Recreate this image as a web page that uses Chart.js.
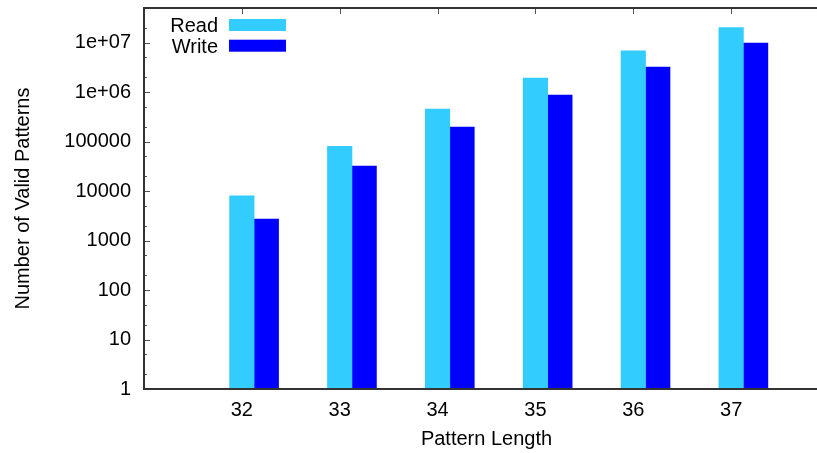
<!DOCTYPE html>
<html>
<head>
<meta charset="utf-8">
<script src="https://cdn.jsdelivr.net/npm/chart.js@4/dist/chart.umd.min.js"></script>
<style>
html, body { margin: 0; padding: 0; background: #fff; overflow: hidden; }
#wrap { width: 829px; height: 453px; }
</style>
</head>
<body>
<div id="wrap"><canvas id="chart"></canvas></div>
<script>
// pattern lengths and counts
var lengths = [32, 33, 34, 35, 36, 37];
var readCounts = [8000, 80000, 455000, 1920000, 6800000, 20000000];
var writeCounts = [2700, 32000, 197000, 870000, 3200000, 9800000];

var yTickValues = [1, 10, 100, 1000, 10000, 100000, 1000000, 10000000];
var yTickLabels = ['1', '10', '100', '1000', '10000', '100000', '1e+06', '1e+07'];
var yMax = 5e7;
var barShift = 0.25; // write bar sits right of the read bar

var fontFamily = '"Liberation Sans", Arial, Helvetica, sans-serif';
var axisFont = { family: fontFamily, size: 20 };

var yMinor = [];
yTickValues.forEach(function (v) {
    [2, 5].forEach(function (m) {
        if (v * m < yMax) yMinor.push(v * m);
    });
});

var gnuplotFrame = {
    id: 'gnuplotFrame',
    beforeDatasetsDraw: function (chart) {
        var ctx = chart.ctx, a = chart.chartArea;
        var xs = chart.scales.x, ys = chart.scales.y;
        ctx.save();
        ctx.strokeStyle = '#555';
        ctx.lineWidth = 1;
        ctx.beginPath();
        yTickValues.forEach(function (v) {
            var py = Math.round(ys.getPixelForValue(v)) + 0.5;
            ctx.moveTo(a.left, py);
            ctx.lineTo(a.left + 6, py);
        });
        yMinor.forEach(function (v) {
            var py = Math.round(ys.getPixelForValue(v)) + 0.5;
            ctx.moveTo(a.left, py);
            ctx.lineTo(a.left + 3, py);
        });
        lengths.forEach(function (v) {
            var px = Math.round(xs.getPixelForValue(v)) + 0.5;
            ctx.moveTo(px, a.top);
            ctx.lineTo(px, a.top + 6);
            ctx.moveTo(px, a.bottom);
            ctx.lineTo(px, a.bottom - 6);
        });
        ctx.stroke();
        ctx.restore();
    },
    afterDraw: function (chart) {
        var ctx = chart.ctx, a = chart.chartArea;
        ctx.save();
        ctx.strokeStyle = '#333';
        ctx.lineWidth = 2;
        ctx.beginPath();
        ctx.moveTo(a.right, a.top);
        ctx.lineTo(a.left, a.top);
        ctx.lineTo(a.left, a.bottom);
        ctx.lineTo(a.right, a.bottom);
        ctx.stroke();

        // key, top left, text right-aligned before the swatch
        ctx.font = '20px ' + fontFamily;
        ctx.textAlign = 'right';
        ctx.textBaseline = 'middle';
        chart.data.datasets.forEach(function (ds, i) {
            var cy = a.top + 17 + i * 20.7;
            ctx.fillStyle = '#000';
            ctx.fillText(ds.label, 218, cy + 1.5);
            ctx.fillStyle = ds.backgroundColor;
            ctx.fillRect(229, cy - 6, 57, 12);
        });
        ctx.restore();
    }
};

new Chart(document.getElementById('chart'), {
    type: 'bar',
    data: {
        datasets: [{
            label: 'Read',
            data: lengths.map(function (l, i) { return { x: l, y: readCounts[i] }; }),
            backgroundColor: '#33ccff'
        }, {
            label: 'Write',
            data: lengths.map(function (l, i) { return { x: l + barShift, y: writeCounts[i] }; }),
            backgroundColor: '#0000ff'
        }]
    },
    options: {
        responsive: true,
        maintainAspectRatio: false,
        animation: false,
        devicePixelRatio: 1,
        grouped: false,
        barThickness: 24.5,
        borderWidth: 0,
        layout: { padding: { left: 0, right: 0, top: 8, bottom: 0 } },
        plugins: {
            legend: { display: false },
            tooltip: { enabled: false }
        },
        scales: {
            x: {
                type: 'linear',
                offset: false,
                min: 31,
                max: 38,
                grid: { display: false, drawTicks: false, offset: false },
                border: { display: false },
                afterBuildTicks: function (s) {
                    s.ticks = lengths.map(function (v) { return { value: v }; });
                },
                afterFit: function (s) {
                    s.height = 64;
                    s.paddingLeft = 0;
                    s.paddingRight = 0;
                },
                ticks: { font: axisFont, color: '#000', padding: 9, maxRotation: 0 },
                title: {
                    display: true,
                    text: 'Pattern Length',
                    font: axisFont,
                    color: '#000',
                    padding: { top: 0, bottom: 2 }
                }
            },
            y: {
                type: 'logarithmic',
                min: 1,
                max: yMax,
                grid: { display: false, drawTicks: false },
                border: { display: false },
                afterBuildTicks: function (s) {
                    s.ticks = yTickValues.map(function (v) { return { value: v }; });
                },
                afterFit: function (s) {
                    s.width = 144;
                    s.paddingTop = 0;
                    s.paddingBottom = 0;
                },
                ticks: {
                    font: axisFont,
                    color: '#000',
                    padding: 13,
                    callback: function (v) { return yTickLabels[yTickValues.indexOf(v)]; }
                },
                title: {
                    display: true,
                    text: 'Number of Valid Patterns',
                    font: axisFont,
                    color: '#000',
                    padding: { top: 11, bottom: 0 }
                }
            }
        }
    },
    plugins: [gnuplotFrame]
});
</script>
</body>
</html>
